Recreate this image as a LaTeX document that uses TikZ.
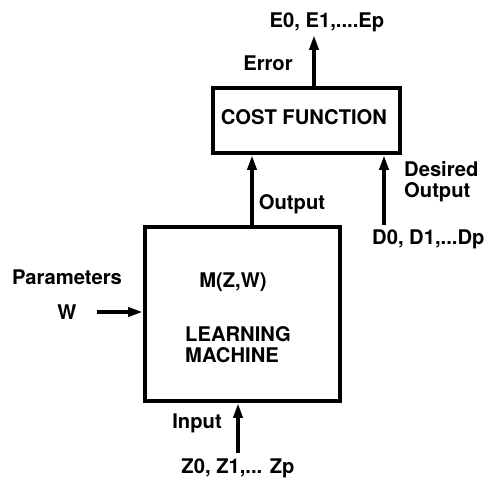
\documentclass[tikz,border=0pt]{standalone}
\usepackage{fontspec}
\setmainfont{TeX Gyre Heros}
\usetikzlibrary{arrows.meta}
\begin{document}
\begin{tikzpicture}[x=1pt, y=-1pt,
		font=\fontsize{20.2}{21}\selectfont\bfseries,
		block/.style={draw, line width=4pt, inner sep=0pt},
		lbl/.style={inner sep=0pt},
		flow/.style={line width=4.5pt, -{Triangle[width=9pt, length=15pt]}}]
		\useasboundingbox (0, 0) rectangle (488, 481);
		\node[block, minimum width=187pt, minimum height=65pt] (cost) at (306.5, 120.5) {};
		\node[block, minimum width=195pt, minimum height=174pt] (lm) at (242.5, 314) {};
		\node[lbl] (costtxt) at (304, 117) {COST FUNCTION};
		\node[lbl] (mzw) at (233, 282) {M(Z,W)};
		\node[lbl, anchor=west, align=left] (lmtxt) at (185, 345) {LEARNING\\MACHINE};
		\node[lbl] (errs) at (327, 22) {E0, E1,....Ep};
		\node[lbl] (errlbl) at (268, 63) {Error};
		\node[lbl] (outlbl) at (292, 204) {Output};
		\node[lbl, anchor=west, align=left] (deslbl) at (404, 181.5) {Desired\\Output};
		\node[lbl, anchor=west] (ds) at (372, 239) {D0, D1,...Dp};
		\node[lbl] (parlbl) at (67, 277) {Parameters};
		\node[lbl] (w) at (67, 312) {W};
		\node[lbl] (inlbl) at (197, 423) {Input};
		\node[lbl] (zs) at (238, 468) {Z0, Z1,... Zp};
		\coordinate (errtop) at (314, 35);
		\coordinate (outbot) at (252, 225);
		\coordinate (desbot) at (384, 225);
		\coordinate (wend) at (97, 312);
		\coordinate (inbot) at (238, 453);
		\draw[flow] (errtop |- cost.north) -- (errtop);
		\draw[flow] (outbot) -- (outbot |- cost.south);
		\draw[flow] (desbot) -- (desbot |- cost.south);
		\draw[flow] (wend) -- (wend -| lm.west);
		\draw[flow] (inbot) -- (inbot |- lm.south);
	\end{tikzpicture}
\end{document}
